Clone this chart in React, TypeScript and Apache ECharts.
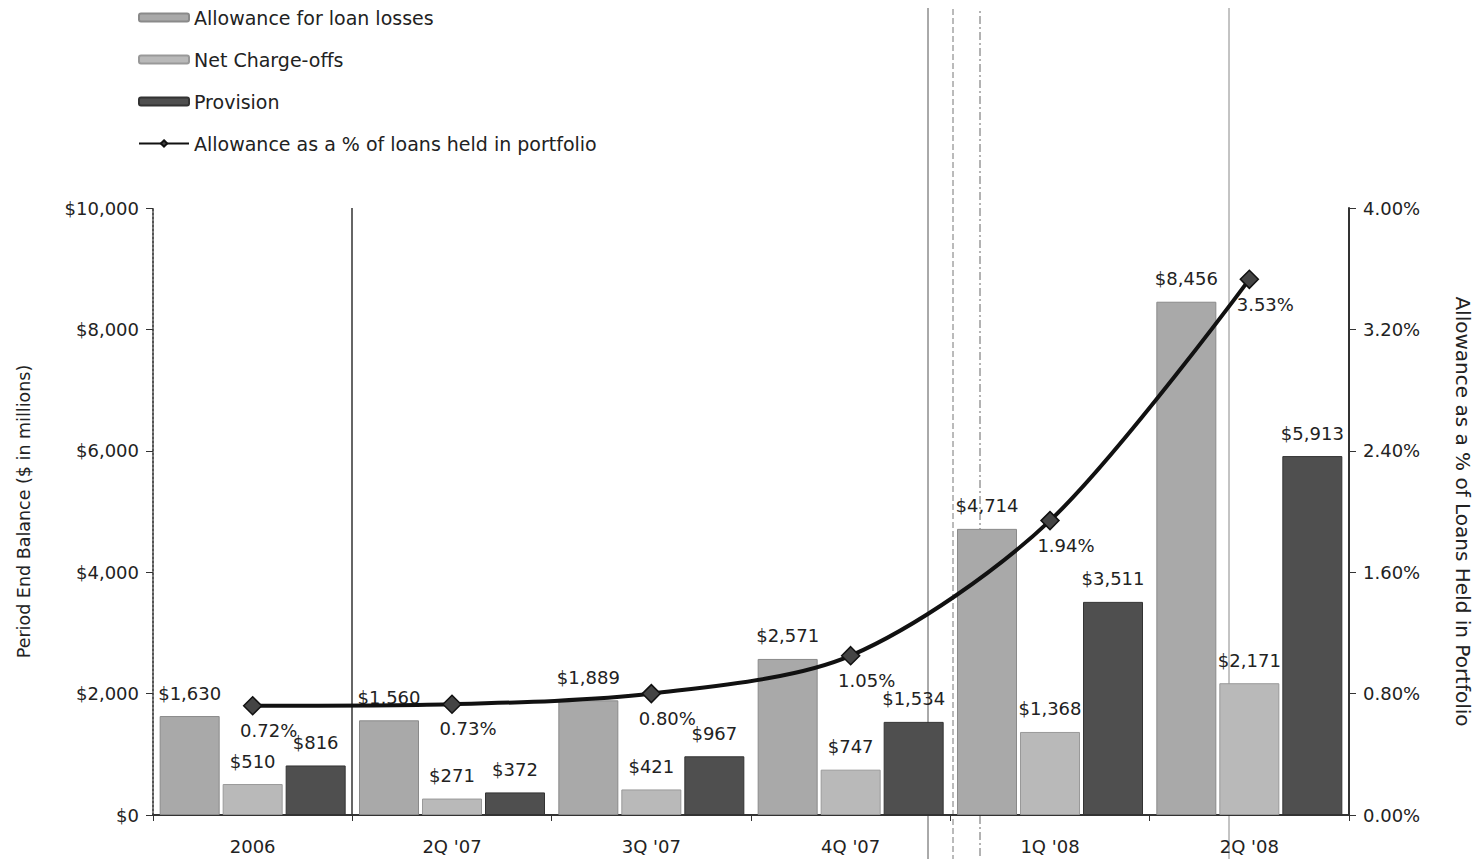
import React, { useEffect, useRef } from "react";
import * as echarts from "echarts";

const categories = ["2006", "2Q '07", "3Q '07", "4Q '07", "1Q '08", "2Q '08"];
const allowance = [1630, 1560, 1889, 2571, 4714, 8456];
const netChargeOffs = [510, 271, 421, 747, 1368, 2171];
const provision = [816, 372, 967, 1534, 3511, 5913];
const allowancePct = [0.72, 0.73, 0.8, 1.05, 1.94, 3.53];
const leftTicks = [0, 2000, 4000, 6000, 8000, 10000];
const rightTicks = [0, 0.8, 1.6, 2.4, 3.2, 4.0];

const FONT = "DejaVu Sans";
const TXT = "#222";
const FS = 18;

function money(v: number) {
  return "$" + v.toLocaleString("en-US");
}

export default function App() {
  const ref = useRef<HTMLDivElement>(null);
  useEffect(() => {
    if (!ref.current) return;
    const chart = echarts.init(ref.current, null, { renderer: "svg" });
    const barLabel = {
      show: true,
      position: "top" as const,
      distance: 14,
      color: TXT,
      fontFamily: FONT,
      fontSize: FS,
      formatter: (p: any) => money(p.value),
    };
    chart.setOption({
      animation: false,
      backgroundColor: "#fff",
      textStyle: { fontFamily: FONT, color: TXT },
      legend: {
        orient: "vertical",
        left: 133,
        top: 3,
        itemWidth: 50,
        itemHeight: 8,
        itemGap: 23,
        textStyle: { fontFamily: FONT, fontSize: 19, color: TXT },
        data: [
          { name: "Allowance for loan losses" },
          { name: "Net Charge-offs" },
          { name: "Provision" },
          { name: "Allowance as a % of loans held in portfolio" },
        ],
      },
      grid: { left: 153, right: 132, top: 208, bottom: 52 },
      xAxis: {
        type: "category",
        data: categories,
        axisLine: { lineStyle: { color: "#333", width: 2 } },
        axisTick: { show: true, length: 6, inside: false, lineStyle: { color: "#333" } },
        axisLabel: { color: TXT, fontFamily: FONT, fontSize: FS, margin: 22 },
      },
      yAxis: [
        {
          type: "value",
          min: leftTicks[0],
          max: leftTicks[leftTicks.length - 1],
          interval: 2000,
          name: "Period End Balance ($ in millions)",
          nameLocation: "middle",
          nameGap: 120,
          nameRotate: 90,
          nameTextStyle: { fontFamily: FONT, fontSize: 17.5, color: TXT },
          axisLine: { show: true, lineStyle: { color: "#555", width: 2, type: "dotted" } },
          axisTick: { show: true, length: 7, lineStyle: { color: "#333" } },
          splitLine: { show: false },
          axisLabel: {
            color: TXT,
            fontFamily: FONT,
            fontSize: FS,
            margin: 14,
            formatter: (v: number) => money(v),
          },
        },
        {
          type: "value",
          min: rightTicks[0],
          max: rightTicks[rightTicks.length - 1],
          interval: 0.8,
          position: "right",
          name: "Allowance as a % of Loans Held in Portfolio",
          nameLocation: "middle",
          nameGap: 104,
          nameRotate: -90,
          nameTextStyle: { fontFamily: FONT, fontSize: 20, color: TXT },
          axisLine: { show: true, lineStyle: { color: "#333", width: 2 } },
          axisTick: { show: true, length: 7, lineStyle: { color: "#333" } },
          splitLine: { show: false },
          axisLabel: {
            color: TXT,
            fontFamily: FONT,
            fontSize: FS,
            margin: 14,
            formatter: (v: number) => v.toFixed(2) + "%",
          },
        },
      ],
      series: [
        {
          name: "Allowance for loan losses",
          type: "bar",
          data: allowance,
          barWidth: 60,
          barGap: "5%",
          itemStyle: { color: "#a9a9a9", borderColor: "#8a8a8a", borderWidth: 1 },
          label: barLabel,
        },
        {
          name: "Net Charge-offs",
          type: "bar",
          data: netChargeOffs,
          barWidth: 60,
          barGap: "5%",
          itemStyle: { color: "#b9b9b9", borderColor: "#999", borderWidth: 1 },
          label: barLabel,
        },
        {
          name: "Provision",
          type: "bar",
          data: provision,
          barWidth: 60,
          barGap: "5%",
          itemStyle: { color: "#4f4f4f", borderColor: "#333", borderWidth: 1 },
          label: barLabel,
        },
        {
          name: "Allowance as a % of loans held in portfolio",
          type: "line",
          yAxisIndex: 1,
          data: allowancePct,
          smooth: 0.3,
          symbol: "diamond",
          symbolSize: 18,
          z: 5,
          lineStyle: { color: "#111", width: 4 },
          itemStyle: { color: "#444", borderColor: "#111", borderWidth: 1.5 },
          label: {
            show: true,
            position: "bottom",
            offset: [16, 0],
            distance: 6,
            color: TXT,
            fontFamily: FONT,
            fontSize: FS,
            formatter: (p: any) => Number(p.value).toFixed(2) + "%",
          },
        },
      ],
      graphic: [
        { type: "line", silent: true, shape: { x1: 352, y1: 208, x2: 352, y2: 815 }, style: { stroke: "#333", lineWidth: 1.5 } },
        { type: "line", silent: true, shape: { x1: 928, y1: 0, x2: 928, y2: 867 }, style: { stroke: "#555", lineWidth: 1 } },
        { type: "line", silent: true, shape: { x1: 953, y1: 0, x2: 953, y2: 867 }, style: { stroke: "#777", lineWidth: 1, lineDash: [6, 3] } },
        { type: "line", silent: true, shape: { x1: 980, y1: 0, x2: 980, y2: 867 }, style: { stroke: "#666", lineWidth: 1, lineDash: [8, 3, 2, 3] } },
        { type: "line", silent: true, shape: { x1: 1229, y1: 0, x2: 1229, y2: 867 }, style: { stroke: "#888", lineWidth: 1 } },
      ],
    });
    return () => chart.dispose();
  }, []);
  return <div ref={ref} style={{ width: 1481, height: 867, margin: -8 }} />;
}
